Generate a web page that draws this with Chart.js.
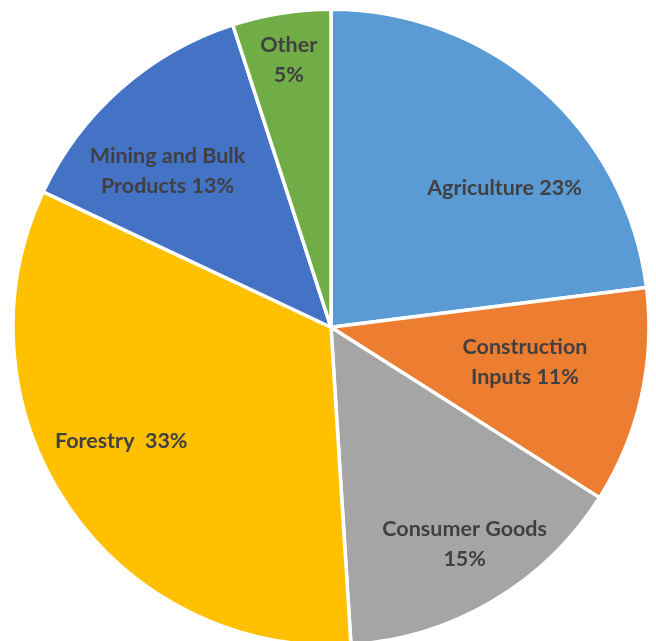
<!DOCTYPE html>
<html>
<head>
<meta charset="utf-8">
<script src="https://cdn.jsdelivr.net/npm/chart.js@4.4.1/dist/chart.umd.min.js"></script>
<style>
  html, body { margin: 0; padding: 0; background: #fff; overflow: hidden; }
  #wrap { width: 656px; height: 647px; }
</style>
</head>
<body>
<div id="wrap"><canvas id="grafico"></canvas></div>
<script>
// Dados do gráfico
const categorias = ['Agriculture', 'Construction Inputs', 'Consumer Goods', 'Forestry', 'Mining and Bulk Products', 'Other'];
const percentuais = [23, 11, 15, 33, 13, 5];
const rotulos = [
  ['Agriculture 23%'],
  ['Construction', 'Inputs 11%'],
  ['Consumer Goods', '15%'],
  ['Forestry  33%'],
  ['Mining and Bulk', 'Products 13%'],
  ['Other', '5%']
];
const cores = ['#5B9BD5', '#ED7D31', '#A5A5A5', '#FFC000', '#4472C4', '#70AD47'];

// Rótulos desenhados dentro de cada fatia
const rotulosFatias = {
  id: 'rotulosFatias',
  afterDatasetsDraw(chart, args, opts) {
    const { ctx } = chart;
    const arcs = chart.getDatasetMeta(0).data;
    ctx.save();
    ctx.font = opts.font;
    ctx.fillStyle = opts.color;
    ctx.textAlign = 'center';
    ctx.textBaseline = 'middle';
    arcs.forEach((arc, i) => {
      const { x, y, startAngle, endAngle, outerRadius } = arc.getProps(['x', 'y', 'startAngle', 'endAngle', 'outerRadius'], true);
      const ang = (startAngle + endAngle) / 2 + opts.desvio[i] * Math.PI / 180;
      const r = outerRadius * opts.raio[i];
      const px = x + Math.cos(ang) * r;
      const py = y + Math.sin(ang) * r;
      const linhas = rotulos[i];
      const h = opts.lineHeight;
      linhas.forEach((t, j) => {
        ctx.fillText(t, px, py + (j - (linhas.length - 1) / 2) * h);
      });
    });
    ctx.restore();
  }
};

const ctx = document.getElementById('grafico').getContext('2d');
new Chart(ctx, {
  type: 'pie',
  data: {
    labels: categorias,
    datasets: [{
      data: percentuais,
      backgroundColor: cores,
      borderColor: '#ffffff',
      borderWidth: 3.5
    }]
  },
  options: {
    responsive: true,
    maintainAspectRatio: false,
    animation: false,
    layout: { padding: { top: 7.5, left: 6, right: 0, bottom: 0 } },
    plugins: {
      legend: { display: false },
      tooltip: { enabled: false },
      rotulosFatias: {
        font: 'bold 21.5px Lato',
        color: '#404040',
        lineHeight: 30,
        raio: [0.70, 0.62, 0.80, 0.75, 0.71, 0.85],
        desvio: [9.8, -2.3, -1.1, 5.8, -5, 0]
      }
    }
  },
  plugins: [rotulosFatias]
});
</script>
</body>
</html>
